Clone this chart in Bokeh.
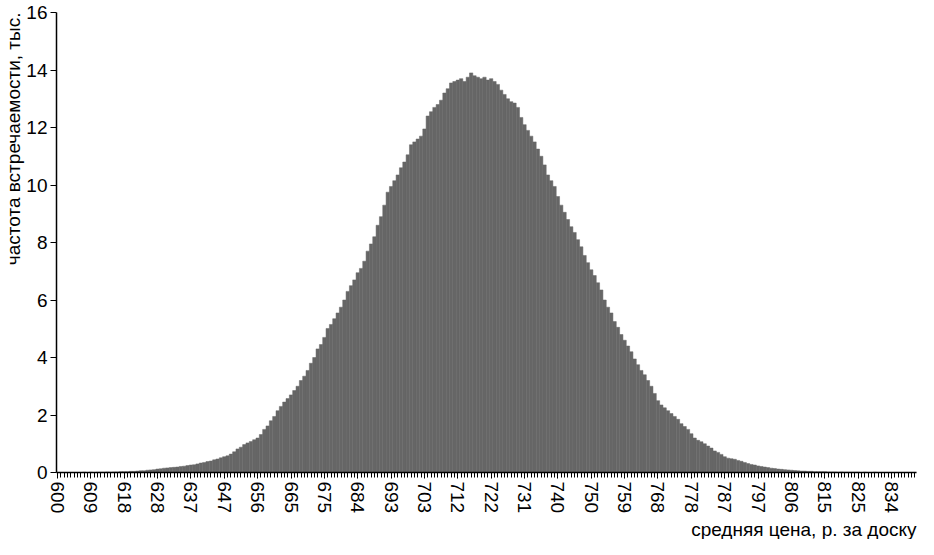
from bokeh.plotting import figure
from bokeh.models import Range1d, FixedTicker, Title, ColumnDataSource
from bokeh.embed import file_html
from bokeh.resources import INLINE

# frequency of occurrence, thousands, per price bin (bins step ~0.936 r.)
freq = [
    0, 0, 0, 0, 0, 0, 0, 0, 0.01, 0,
    0.01, 0, 0.01, 0.01, 0.01, 0.02, 0.01, 0.02, 0.02, 0.03,
    0.03, 0.03, 0.04, 0.04, 0.05, 0.06, 0.06, 0.08, 0.09, 0.10,
    0.12, 0.13, 0.15, 0.16, 0.17, 0.18, 0.19, 0.21, 0.22, 0.24,
    0.26, 0.27, 0.30, 0.33, 0.35, 0.38, 0.40, 0.44, 0.47, 0.51,
    0.55, 0.58, 0.64, 0.72, 0.82, 0.88, 0.97, 1.03, 1.08, 1.14,
    1.20, 1.32, 1.50, 1.62, 1.80, 1.95, 2.15, 2.30, 2.45, 2.57,
    2.70, 2.85, 3.00, 3.20, 3.35, 3.55, 3.80, 4.00, 4.30, 4.45,
    4.70, 5.01, 5.15, 5.35, 5.55, 5.75, 6.00, 6.30, 6.50, 6.70,
    6.95, 7.10, 7.35, 7.70, 7.95, 8.20, 8.60, 8.90, 9.30, 9.75,
    9.95, 10.15, 10.35, 10.60, 10.80, 11.05, 11.40, 11.50, 11.60, 11.70,
    11.95, 12.40, 12.55, 12.70, 12.80, 12.95, 13.20, 13.35, 13.55, 13.60,
    13.65, 13.70, 13.60, 13.75, 13.90, 13.80, 13.75, 13.70, 13.75, 13.65,
    13.70, 13.60, 13.50, 13.30, 13.15, 13.00, 12.90, 12.85, 12.70, 12.35,
    12.10, 11.90, 11.70, 11.50, 11.25, 11.00, 10.70, 10.35, 10.15, 9.95,
    9.60, 9.30, 9.05, 8.80, 8.55, 8.35, 8.10, 7.85, 7.55, 7.30,
    7.05, 6.85, 6.60, 6.35, 6.00, 5.75, 5.55, 5.25, 5.05, 4.80,
    4.60, 4.40, 4.20, 3.95, 3.75, 3.55, 3.40, 3.20, 3.00, 2.75,
    2.50, 2.35, 2.25, 2.15, 2.05, 1.95, 1.85, 1.70, 1.60, 1.50,
    1.35, 1.20, 1.12, 1.07, 1.00, 0.92, 0.85, 0.75, 0.70, 0.63,
    0.55, 0.50, 0.48, 0.46, 0.42, 0.39, 0.35, 0.31, 0.28, 0.26,
    0.23, 0.21, 0.19, 0.17, 0.15, 0.14, 0.12, 0.11, 0.10, 0.09,
    0.08, 0.07, 0.06, 0.05, 0.05, 0.04, 0.04, 0.03, 0.03, 0.03,
    0.03, 0.02, 0.02, 0.02, 0.01, 0.02, 0.01, 0.01, 0.01, 0.01,
    0.01, 0, 0.01, 0, 0, 0.01, 0, 0, 0, 0,
    0, 0, 0, 0, 0, 0, 0, 0,
]

# x tick labels, one every 10 bins
tick_labels = ["600", "609", "618", "628", "637", "647", "656", "665", "675",
               "684", "693", "703", "712", "722", "731", "740", "750", "759",
               "768", "778", "787", "797", "806", "815", "825", "834"]
label_every = 10

y_ticks = [0, 2, 4, 6, 8, 10, 12, 14, 16]

x_title = "средняя цена, р. за доску"
y_title = "частота встречаемости, тыс."

FONT = "Liberation Sans"
FS = "19px"

n = len(freq)
idx = list(range(n))
src = ColumnDataSource(dict(x=idx, top=freq))

p = figure(width=918, height=539, output_backend="svg", toolbar_location=None,
           x_range=Range1d(-0.3, n - 0.5), y_range=Range1d(0, 16),
           min_border_left=0, min_border_right=2, min_border_top=12,
           min_border_bottom=0)
p.outline_line_color = None
p.grid.visible = False
p.background_fill_color = "white"

p.vbar(x="x", top="top", width=1.0, bottom=0, source=src,
       fill_color="#666666", line_color="#666666", line_width=0.5)

major = [i * label_every for i in range(len(tick_labels))]
p.xaxis.ticker = FixedTicker(ticks=major, minor_ticks=idx)
p.xaxis.major_label_overrides = {m: t for m, t in zip(major, tick_labels)}
p.xaxis.major_label_orientation = "vertical"
p.yaxis.ticker = FixedTicker(ticks=y_ticks)

for ax in (p.xaxis, p.yaxis):
    ax.axis_line_color = "black"
    ax.axis_line_width = 1.5
    ax.major_tick_line_color = "black"
    ax.minor_tick_line_color = "black"
    ax.major_tick_out = 6
    ax.major_tick_in = 0
    ax.minor_tick_out = 5
    ax.minor_tick_in = 0
    ax.major_label_text_font = FONT
    ax.major_label_text_font_size = FS
    ax.major_label_text_color = "black"
    ax.major_label_standoff = 3
p.yaxis.minor_tick_line_color = None

p.add_layout(Title(text=y_title, align="right", text_font=FONT,
                   text_font_size=FS, text_font_style="normal",
                   text_color="black", offset=0, standoff=0), "left")
p.add_layout(Title(text=x_title, align="right", text_font=FONT,
                   text_font_size=FS, text_font_style="normal",
                   text_color="black", offset=0, standoff=0), "below")

open("out.html", "w").write(file_html(p, INLINE))
